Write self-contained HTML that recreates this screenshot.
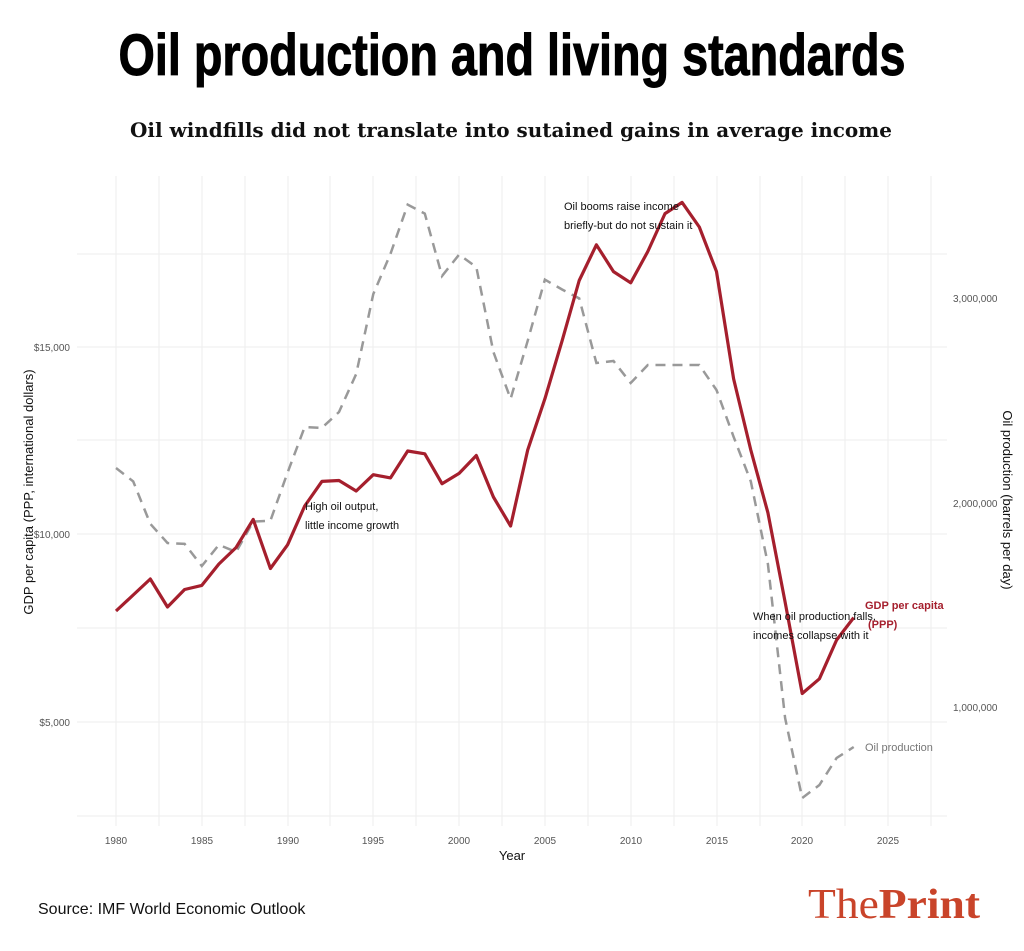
<!DOCTYPE html>
<html><head><meta charset="utf-8"><style>
body{margin:0;background:#fff;width:1024px;height:946px;overflow:hidden}
</style></head><body>
<svg width="1024" height="946" viewBox="0 0 1024 946" xmlns="http://www.w3.org/2000/svg" font-family="Liberation Sans, sans-serif">
<rect width="1024" height="946" fill="#fff"/>
<text x="512" y="75" text-anchor="middle" font-family="Liberation Sans Narrow, Liberation Sans, sans-serif" font-weight="bold" font-size="58" fill="#000" stroke="#000" stroke-width="1" textLength="787" lengthAdjust="spacingAndGlyphs">Oil production and living standards</text>
<text x="511" y="137" text-anchor="middle" font-family="DejaVu Serif, Liberation Serif, serif" font-weight="bold" font-size="20" fill="#111" textLength="762" lengthAdjust="spacingAndGlyphs">Oil windfills did not translate into sutained gains in average income</text>
<g stroke="#eeeeee" stroke-width="1">
<line x1="77" y1="254" x2="947" y2="254"/><line x1="77" y1="347" x2="947" y2="347"/><line x1="77" y1="440" x2="947" y2="440"/><line x1="77" y1="534" x2="947" y2="534"/><line x1="77" y1="628" x2="947" y2="628"/><line x1="77" y1="722" x2="947" y2="722"/><line x1="77" y1="816" x2="947" y2="816"/>
<line x1="116" y1="176" x2="116" y2="826"/><line x1="159" y1="176" x2="159" y2="826"/><line x1="202" y1="176" x2="202" y2="826"/><line x1="245" y1="176" x2="245" y2="826"/><line x1="288" y1="176" x2="288" y2="826"/><line x1="330" y1="176" x2="330" y2="826"/><line x1="373" y1="176" x2="373" y2="826"/><line x1="416" y1="176" x2="416" y2="826"/><line x1="459" y1="176" x2="459" y2="826"/><line x1="502" y1="176" x2="502" y2="826"/><line x1="545" y1="176" x2="545" y2="826"/><line x1="588" y1="176" x2="588" y2="826"/><line x1="631" y1="176" x2="631" y2="826"/><line x1="674" y1="176" x2="674" y2="826"/><line x1="717" y1="176" x2="717" y2="826"/><line x1="760" y1="176" x2="760" y2="826"/><line x1="802" y1="176" x2="802" y2="826"/><line x1="845" y1="176" x2="845" y2="826"/><line x1="888" y1="176" x2="888" y2="826"/><line x1="931" y1="176" x2="931" y2="826"/>
</g>
<polyline fill="none" stroke="#999" stroke-width="2.5" stroke-dasharray="10,7" points="116,468 133.2,481.4 150.3,523.8 167.5,543 184.6,543.9 201.8,566 218.9,544.8 236.1,552 253.2,521.6 270.4,520.7 287.6,472.5 304.7,427 321.9,427.9 339,412 356.2,374 373.3,294 390.5,253.8 407.7,204.6 424.8,213.6 442,276 459.1,254.6 476.3,267 493.4,352 510.6,398.8 527.7,340.8 544.9,279.6 562.1,289.5 579.2,298.4 596.4,363 613.5,361 630.7,383 647.8,365 665,365 682.1,365 699.3,365 716.5,390 733.6,436.8 750.8,481.4 767.9,564 785.1,718 802.2,798 819.4,785 836.6,758 853.7,747"/>
<polyline fill="none" stroke="#a51f2d" stroke-width="3.2" stroke-linejoin="round" points="116,611 133.2,595 150.3,579 167.5,607 184.6,589.5 201.8,585.4 218.9,564 236.1,547.5 253.2,519.4 270.4,568.5 287.6,544.8 304.7,506 321.9,481.4 339,480.5 356.2,491 373.3,474.7 390.5,477.9 407.7,451 424.8,453.8 442,483.7 459.1,473.4 476.3,455.5 493.4,497 510.6,526 527.7,450 544.9,398.8 562.1,340.8 579.2,280.5 596.4,244.8 613.5,271.6 630.7,282.8 647.8,251.5 665,213.6 682.1,202.4 699.3,227 716.5,271.6 733.6,378.8 750.8,450 767.9,512.7 785.1,602 802.2,693.5 819.4,678.8 836.6,640 853.7,617.6"/>
<g font-size="10" fill="#555" text-anchor="middle">
<text x="116" y="844">1980</text><text x="202" y="844">1985</text><text x="288" y="844">1990</text><text x="373" y="844">1995</text><text x="459" y="844">2000</text><text x="545" y="844">2005</text><text x="631" y="844">2010</text><text x="717" y="844">2015</text><text x="802" y="844">2020</text><text x="888" y="844">2025</text>
</g>
<g font-size="10" fill="#555" text-anchor="end">
<text x="70" y="351">$15,000</text><text x="70" y="538">$10,000</text><text x="70" y="726">$5,000</text>
</g>
<g font-size="10" fill="#555">
<text x="953" y="302">3,000,000</text><text x="953" y="507">2,000,000</text><text x="953" y="711">1,000,000</text>
</g>
<text x="512" y="860" font-size="13" text-anchor="middle" fill="#111">Year</text>
<text transform="translate(33,492) rotate(-90)" font-size="13" text-anchor="middle" fill="#111">GDP per capita (PPP, international dollars)</text>
<text transform="translate(1003,500) rotate(90)" font-size="13" text-anchor="middle" fill="#111">Oil production (barrels per day)</text>
<g font-size="11" fill="#111">
<text x="305" y="510">High oil output,</text><text x="305" y="529">little income growth</text>
<text x="564" y="210">Oil booms raise income</text><text x="564" y="229">briefly-but do not sustain it</text>
<text x="753" y="620">When oil production falls,</text><text x="753" y="639">incomes collapse with it</text>
</g>
<text x="865" y="609" font-size="11" font-weight="bold" fill="#a51f2d">GDP per capita</text>
<text x="868" y="628" font-size="11" font-weight="bold" fill="#a51f2d">(PPP)</text>
<text x="865" y="751" font-size="11" fill="#777">Oil production</text>
<text x="38" y="914" font-size="16" fill="#111">Source: IMF World Economic Outlook</text>
<text x="808" y="918" font-family="Liberation Serif, serif" font-size="42" fill="#c9442a" textLength="172" lengthAdjust="spacingAndGlyphs"><tspan>The</tspan><tspan font-weight="bold">Print</tspan></text>
</svg>
</body></html>
